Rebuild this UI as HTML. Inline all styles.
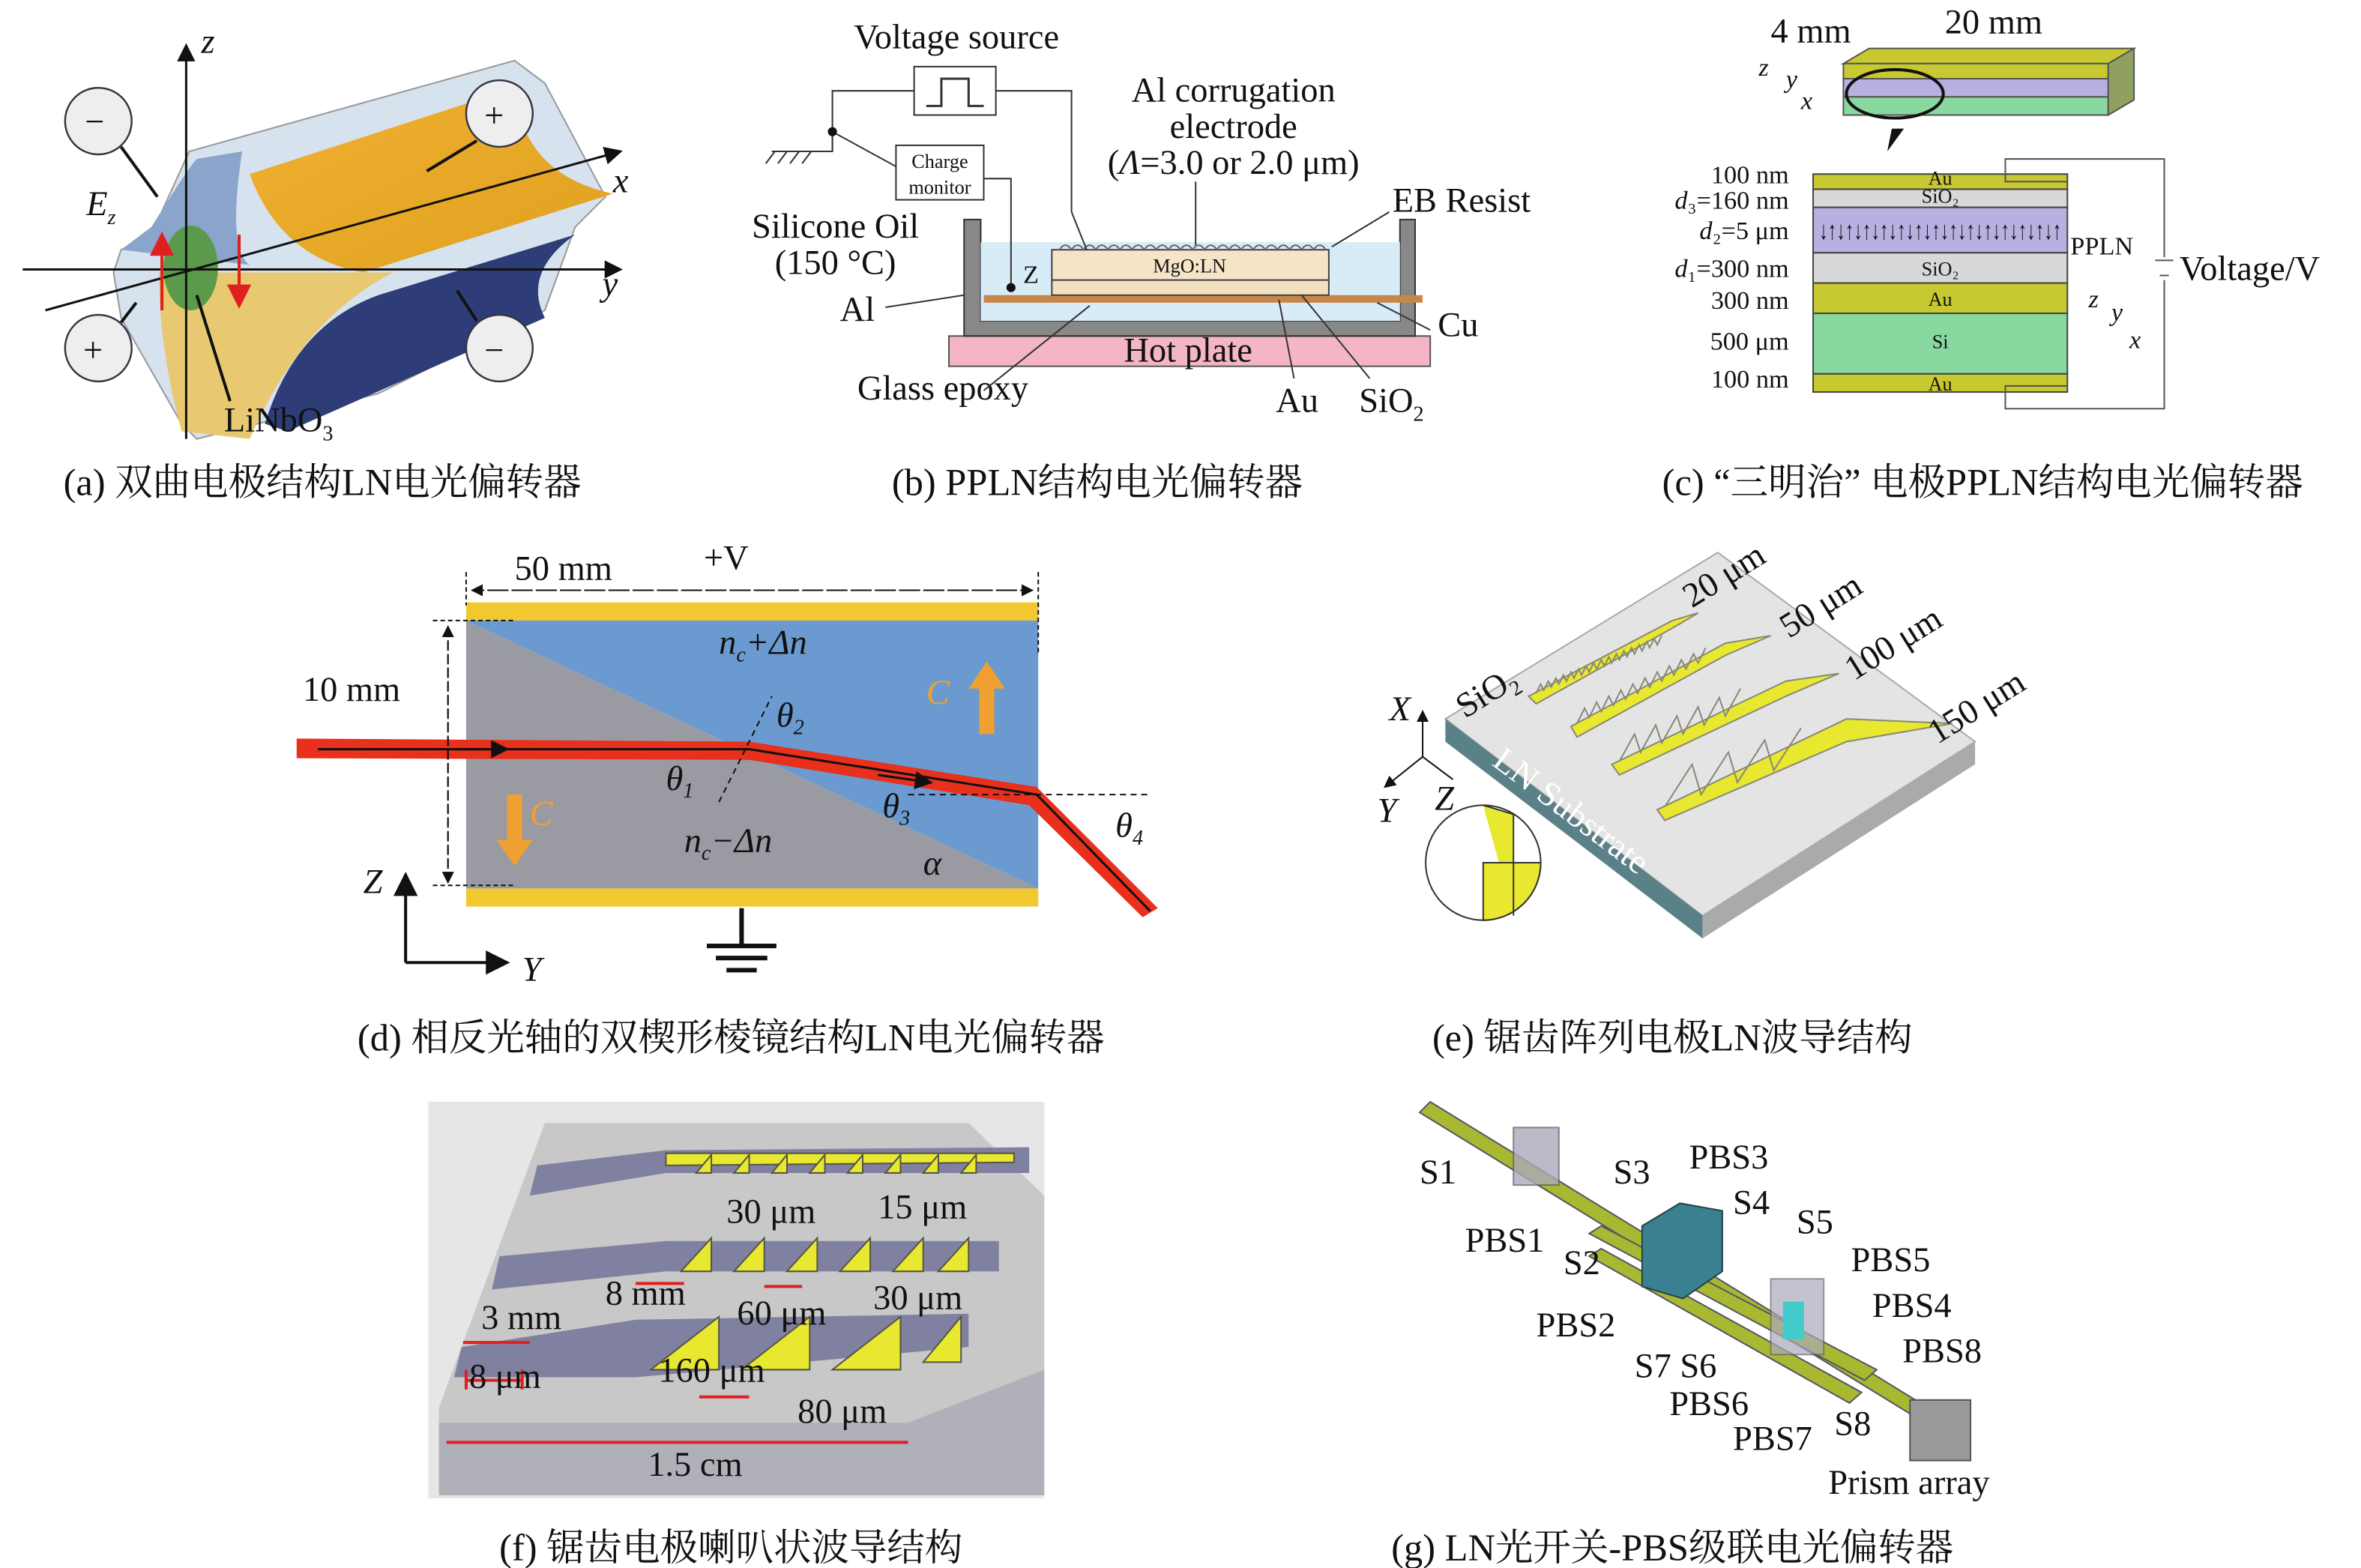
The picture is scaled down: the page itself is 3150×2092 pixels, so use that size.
<!DOCTYPE html>
<html><head><meta charset="utf-8"><style>
html,body{margin:0;padding:0;background:#fff}
svg{display:block}
text{font-family:"Liberation Serif","Noto Serif CJK SC",serif;fill:#111}
.c{font-size:25px}
.l{font-size:23px}
.s{font-size:17px}
.t{font-size:13px}
</style></head><body>
<svg width="3150" height="2092" viewBox="0 0 1560 1036" xmlns="http://www.w3.org/2000/svg">
<rect width="1560" height="1036" fill="#fff"/>
<defs>
<marker id="ar" markerWidth="8" markerHeight="8" refX="7" refY="4" orient="auto"><path d="M0,0 L8,4 L0,8z" fill="#111"/></marker>
<marker id="rr" markerWidth="8" markerHeight="8" refX="7" refY="4" orient="auto"><path d="M0,0 L8,4 L0,8z" fill="#e02020"/></marker>
<linearGradient id="gy" x1="0" y1="0" x2="1" y2="1"><stop offset="0" stop-color="#f0b030"/><stop offset="1" stop-color="#e0a020"/></linearGradient>
</defs>

<!-- (a) -->
<polygon points="125,100 340,40 360,55 400,130 380,150 360,205 250,260 130,290 120,280 80,210 75,180 80,165 100,155" fill="#d7e2ef" stroke="#999"/>
<path d="M165,115 L340,58 Q345,115 405,128 L240,180 Q185,170 165,115z" fill="url(#gy)"/>
<path d="M100,150 Q125,110 130,105 L160,100 Q150,165 165,175 L80,165z" fill="#8aa4cc"/>
<path d="M105,180 L260,180 Q200,210 165,290 L120,285 Q105,230 105,180z" fill="#e8c870"/>
<path d="M175,280 Q195,215 250,195 L380,155 Q345,180 360,210 L190,285z" fill="#2e3c78"/>
<ellipse cx="126" cy="177" rx="18" ry="28" fill="#5a9a4a"/>
<line x1="123" y1="290" x2="123" y2="30" stroke="#111" stroke-width="1.5" marker-end="url(#ar)"/>
<line x1="15" y1="178" x2="410" y2="178" stroke="#111" stroke-width="1.5" marker-end="url(#ar)"/>
<line x1="30" y1="205" x2="410" y2="100" stroke="#111" stroke-width="1.5" marker-end="url(#ar)"/>
<line x1="107" y1="205" x2="107" y2="155" stroke="#e02020" stroke-width="2" marker-end="url(#rr)"/>
<line x1="158" y1="155" x2="158" y2="202" stroke="#e02020" stroke-width="2" marker-end="url(#rr)"/>
<g fill="#eee" stroke="#334" stroke-width="1.2">
<ellipse cx="65" cy="80" rx="22" ry="22"/><ellipse cx="330" cy="75" rx="22" ry="22"/>
<ellipse cx="65" cy="230" rx="22" ry="22"/><ellipse cx="330" cy="230" rx="22" ry="22"/></g>
<g stroke="#111" stroke-width="2"><line x1="80" y1="97" x2="104" y2="130"/><line x1="315" y1="93" x2="282" y2="113"/><line x1="80" y1="213" x2="90" y2="200"/><line x1="315" y1="212" x2="302" y2="192"/><line x1="130" y1="195" x2="152" y2="265"/></g>
<text x="56" y="88" class="l" fill="#666">−</text><text x="320" y="84" class="l">+</text><text x="55" y="239" class="l">+</text><text x="320" y="239" class="l">−</text>
<text x="133" y="35" class="l" font-style="italic">z</text><text x="405" y="127" class="l" font-style="italic">x</text><text x="398" y="195" class="l" font-style="italic">y</text>
<text x="57" y="142" class="l" font-style="italic">E<tspan font-size="14" dy="6">z</tspan></text>
<text x="148" y="285" class="l">LiNbO<tspan font-size="14" dy="6">3</tspan></text>
<text x="213" y="327" class="c" text-anchor="middle">(a) 双曲电极结构LN电光偏转器</text>

<!-- (b) -->
<rect x="627" y="222" width="318" height="20" fill="#f4b6c4" stroke="#555"/>
<text x="785" y="239" class="l" text-anchor="middle">Hot plate</text>
<path d="M637,145 L637,222 L935,222 L935,145 L925,145 L925,212 L648,212 L648,145z" fill="#888" stroke="#333"/>
<rect x="648" y="160" width="277" height="52" fill="#d8ecf8"/>
<rect x="650" y="195" width="290" height="5" fill="#c8874a"/>
<rect x="695" y="185" width="183" height="10" fill="#f3e0c0" stroke="#444"/>
<rect x="695" y="165" width="183" height="20" fill="#f6e4c8" stroke="#444"/>
<path d="M700,165 q4,-6 8,0 q4,-6 8,0 q4,-6 8,0 q4,-6 8,0 q4,-6 8,0 q4,-6 8,0 q4,-6 8,0 q4,-6 8,0 q4,-6 8,0 q4,-6 8,0 q4,-6 8,0 q4,-6 8,0 q4,-6 8,0 q4,-6 8,0 q4,-6 8,0 q4,-6 8,0 q4,-6 8,0 q4,-6 8,0 q4,-6 8,0 q4,-6 8,0 q4,-6 8,0 q4,-6 8,0" fill="none" stroke="#666"/>
<text x="786" y="180" class="t" text-anchor="middle">MgO:LN</text>
<rect x="604" y="44" width="54" height="32" fill="#fff" stroke="#333"/>
<path d="M612,70 L622,70 L622,52 L640,52 L640,70 L650,70" fill="none" stroke="#333" stroke-width="1.5"/>
<rect x="592" y="96" width="58" height="36" fill="#fff" stroke="#333"/>
<text x="621" y="111" class="t" text-anchor="middle" font-size="14">Charge</text><text x="621" y="128" class="t" text-anchor="middle" font-size="14">monitor</text>
<g stroke="#333" fill="none"><path d="M604,60 L550,60 L550,100 L510,100"/><path d="M550,87 L592,110 M550,87 L550,100"/><path d="M650,118 L668,118 L668,190"/><path d="M658,60 L708,60 L708,140 L718,165"/>
<path d="M512,100 l-6,8 M520,100 l-6,8 M528,100 l-6,8 M536,100 l-6,8"/></g>
<circle cx="550" cy="87" r="3" fill="#111"/><circle cx="668" cy="190" r="3" fill="#111"/>
<text x="632" y="32" class="l" text-anchor="middle">Voltage source</text>
<text x="815" y="67" class="l" text-anchor="middle">Al corrugation</text>
<text x="815" y="91" class="l" text-anchor="middle">electrode</text>
<text x="815" y="115" class="l" text-anchor="middle">(<tspan font-style="italic">Λ</tspan>=3.0 or 2.0 μm)</text>
<text x="920" y="140" class="l">EB Resist</text>
<text x="552" y="157" class="l" text-anchor="middle">Silicone Oil</text>
<text x="552" y="181" class="l" text-anchor="middle">(150 °C)</text>
<text x="555" y="212" class="l">Al</text>
<text x="950" y="222" class="l">Cu</text>
<text x="623" y="264" class="l" text-anchor="middle">Glass epoxy</text>
<text x="843" y="272" class="l">Au</text><text x="898" y="272" class="l">SiO<tspan font-size="14" dy="6">2</tspan></text>
<text x="676" y="187" class="s">Z</text>
<g stroke="#333" fill="none"><line x1="585" y1="203" x2="637" y2="195"/><line x1="918" y1="140" x2="880" y2="163"/><line x1="790" y1="120" x2="790" y2="162"/><line x1="945" y1="218" x2="910" y2="200"/><line x1="650" y1="258" x2="720" y2="202"/><line x1="855" y1="250" x2="845" y2="198"/><line x1="905" y1="250" x2="860" y2="195"/></g>
<text x="725" y="327" class="c" text-anchor="middle">(b) PPLN结构电光偏转器</text>

<!-- (c) -->
<polygon points="1218,42 1235,32 1410,32 1393,42" fill="#c8c830" stroke="#555"/>
<rect x="1218" y="42" width="175" height="10" fill="#c8c830" stroke="#555"/>
<rect x="1218" y="52" width="175" height="12" fill="#b8b0e0" stroke="#555"/>
<rect x="1218" y="64" width="175" height="12" fill="#88d8a0" stroke="#555"/>
<polygon points="1393,42 1410,32 1410,66 1393,76" fill="#90a060" stroke="#555"/>
<ellipse cx="1252" cy="62" rx="32" ry="16" fill="none" stroke="#111" stroke-width="2"/>
<text x="1170" y="28" class="l">4 mm</text><text x="1285" y="22" class="l">20 mm</text>
<text x="1162" y="50" class="s" font-style="italic">z</text><text x="1180" y="58" class="s" font-style="italic">y</text><text x="1190" y="72" class="s" font-style="italic">x</text>
<polygon points="1250,85 1258,85 1247,100" fill="#111"/>
<g stroke="#444">
<rect x="1198" y="115" width="168" height="10" fill="#c8c830"/>
<rect x="1198" y="125" width="168" height="12" fill="#d8d8d8"/>
<rect x="1198" y="137" width="168" height="30" fill="#b8b0e0"/>
<rect x="1198" y="167" width="168" height="20" fill="#d8d8d8"/>
<rect x="1198" y="187" width="168" height="20" fill="#c8c830"/>
<rect x="1198" y="207" width="168" height="40" fill="#88d8a0"/>
<rect x="1198" y="247" width="168" height="12" fill="#c8c830"/></g>
<text x="1282" y="158" font-size="17" text-anchor="middle" textLength="160" lengthAdjust="spacingAndGlyphs">↓↑↓↑↓↑↓↑↓↑↓↑↓↑↓↑↓↑↓↑↓↑↓↑↓↑↓↑</text>
<g class="t" font-size="11" text-anchor="middle"><text x="1282" y="122">Au</text><text x="1282" y="134">SiO₂</text><text x="1282" y="182">SiO₂</text><text x="1282" y="202">Au</text><text x="1282" y="230">Si</text><text x="1282" y="258">Au</text></g>
<path d="M1366,120 L1325,120 L1325,105 L1430,105 L1430,170 M1430,185 L1430,270 L1325,270 L1325,255 L1366,255" fill="none" stroke="#555"/>
<line x1="1424" y1="172" x2="1436" y2="172" stroke="#555"/><line x1="1427" y1="182" x2="1433" y2="182" stroke="#555"/>
<text x="1368" y="168" class="s">PPLN</text><text x="1440" y="185" class="l">Voltage/V</text>
<g class="s" text-anchor="end"><text x="1182" y="121">100 nm</text><text x="1182" y="138"><tspan font-style="italic">d</tspan>₃=160 nm</text><text x="1182" y="158"><tspan font-style="italic">d</tspan>₂=5 μm</text><text x="1182" y="183"><tspan font-style="italic">d</tspan>₁=300 nm</text><text x="1182" y="204">300 nm</text><text x="1182" y="231">500 μm</text><text x="1182" y="256">100 nm</text></g>
<text x="1380" y="203" class="s" font-style="italic">z</text><text x="1395" y="212" class="s" font-style="italic">y</text><text x="1407" y="230" class="s" font-style="italic">x</text>
<text x="1310" y="327" class="c" text-anchor="middle">(c) “三明治” 电极PPLN结构电光偏转器</text>

<!-- (d) -->
<rect x="308" y="398" width="378" height="12" fill="#f2c830"/>
<rect x="308" y="587" width="378" height="12" fill="#f2c830"/>
<polygon points="308,410 686,410 686,587" fill="#6b9ad0"/>
<polygon points="308,410 686,587 308,587" fill="#9a9aa2"/>
<polygon points="196,488 495,490 685,520 765,600 755,606 680,532 495,502 196,501" fill="#e8301c"/>
<path d="M210,495 L495,495 L685,525 L760,602" fill="none" stroke="#111" stroke-width="1.5"/>
<line x1="300" y1="495" x2="335" y2="495" stroke="#111" marker-end="url(#ar)" stroke-width="1.5"/>
<line x1="580" y1="512" x2="615" y2="517" stroke="#111" marker-end="url(#ar)" stroke-width="1.5"/>
<line x1="475" y1="530" x2="510" y2="460" stroke="#111" stroke-dasharray="4,3"/>
<line x1="600" y1="525" x2="760" y2="525" stroke="#111" stroke-dasharray="4,3"/>
<line x1="312" y1="390" x2="682" y2="390" stroke="#111" stroke-dasharray="8,3,2,3" marker-end="url(#ar)"/>
<line x1="682" y1="390" x2="312" y2="390" stroke="#111" stroke-dasharray="8,3,2,3" marker-end="url(#ar)"/>
<line x1="296" y1="414" x2="296" y2="583" stroke="#111" stroke-dasharray="6,3" marker-end="url(#ar)"/>
<line x1="296" y1="583" x2="296" y2="414" stroke="#111" stroke-dasharray="6,3" marker-end="url(#ar)"/>
<g stroke="#111" stroke-dasharray="3,2"><line x1="286" y1="410" x2="340" y2="410"/><line x1="286" y1="585" x2="340" y2="585"/><line x1="308" y1="378" x2="308" y2="400"/><line x1="686" y1="378" x2="686" y2="432"/></g>
<text x="340" y="383" class="l">50 mm</text><text x="465" y="376" class="l">+V</text>
<text x="200" y="463" class="l">10 mm</text>
<text x="475" y="432" class="l" font-style="italic">n<tspan font-size="14" dy="5">c</tspan><tspan dy="-5">+Δn</tspan></text>
<text x="452" y="563" class="l" font-style="italic">n<tspan font-size="14" dy="5">c</tspan><tspan dy="-5">−Δn</tspan></text>
<text x="612" y="465" class="l" font-style="italic" style="fill:#f0a030">C</text>
<text x="350" y="545" class="l" font-style="italic" style="fill:#f0a030">C</text>
<path d="M647,485 L647,455 L640,455 L652,437 L664,455 L657,455 L657,485z" fill="#f0a030"/>
<path d="M335,525 L335,555 L328,555 L340,572 L352,555 L345,555 L345,525z" fill="#f0a030"/>
<text x="513" y="480" class="l" font-style="italic">θ<tspan font-size="14" dy="5">2</tspan></text>
<text x="440" y="522" class="l" font-style="italic">θ<tspan font-size="14" dy="5">1</tspan></text>
<text x="583" y="540" class="l" font-style="italic">θ<tspan font-size="14" dy="5">3</tspan></text>
<text x="737" y="553" class="l" font-style="italic">θ<tspan font-size="14" dy="5">4</tspan></text>
<text x="610" y="578" class="l" font-style="italic">α</text>
<line x1="268" y1="636" x2="268" y2="578" stroke="#111" stroke-width="2" marker-end="url(#ar)"/>
<line x1="268" y1="636" x2="335" y2="636" stroke="#111" stroke-width="2" marker-end="url(#ar)"/>
<text x="240" y="590" class="l" font-style="italic">Z</text><text x="345" y="648" class="l" font-style="italic">Y</text>
<g stroke="#111" stroke-width="3"><line x1="490" y1="600" x2="490" y2="625"/><line x1="467" y1="625" x2="513" y2="625"/><line x1="473" y1="633" x2="507" y2="633"/><line x1="480" y1="641" x2="500" y2="641"/></g>
<text x="483" y="694" class="c" text-anchor="middle">(d) 相反光轴的双楔形棱镜结构LN电光偏转器</text>

<!-- (e) -->
<polygon points="955,475 1135,365 1305,490 1125,605" fill="#e4e4e4" stroke="#aaa"/>
<polygon points="955,475 1125,605 1125,620 955,490" fill="#5a8088"/>
<polygon points="1125,605 1305,490 1305,505 1125,620" fill="#aaa"/>
<g fill="#e8e830" stroke="#887">
<polygon points="1010,460 1105,410 1122,405 1105,415 1015,465"/>
<polygon points="1038,480 1140,425 1170,420 1140,433 1042,487"/>
<polygon points="1065,505 1180,450 1215,445 1180,460 1070,512"/>
<polygon points="1095,535 1220,475 1290,478 1220,490 1100,542"/></g>
<g fill="none" stroke="#887" stroke-width="1">
<path d="M1015,458 l3,-6 l2,4 l3,-6 l2,4 l3,-6 l2,4 l3,-6 l2,4 l3,-6 l2,4 l3,-6 l2,4 l3,-6 l2,4 l3,-6 l2,4 l3,-6 l2,4 l3,-6 l2,4 l3,-6 l2,4 l3,-6 l2,4 l3,-6 l2,4 l3,-6 l2,4 l3,-6 l2,4 l3,-6 l2,4 l3,-6"/>
<path d="M1042,478 l5,-10 l3,6 l5,-10 l3,6 l5,-10 l3,6 l5,-10 l3,6 l5,-10 l3,6 l5,-10 l3,6 l5,-10 l3,6 l5,-10 l3,6 l5,-10 l3,6 l5,-10 l3,6 l5,-10"/>
<path d="M1070,503 l10,-18 l4,12 l10,-18 l4,12 l10,-18 l4,12 l10,-18 l4,12 l10,-18 l4,12 l10,-18"/>
<path d="M1100,533 l18,-28 l6,20 l18,-28 l6,20 l18,-28 l6,20 l18,-28"/></g>
<text x="968" y="475" class="l" transform="rotate(-32 968 475)">SiO<tspan font-size="14" dy="5">2</tspan></text>
<text x="985" y="505" class="l" transform="rotate(37 985 505)" style="fill:#fff">LN Substrate</text>
<text x="1118" y="402" class="l" transform="rotate(-32 1118 402)">20 μm</text>
<text x="1182" y="422" class="l" transform="rotate(-32 1182 422)">50 μm</text>
<text x="1225" y="450" class="l" transform="rotate(-32 1225 450)">100 μm</text>
<text x="1280" y="492" class="l" transform="rotate(-32 1280 492)">150 μm</text>
<circle cx="980" cy="570" r="38" fill="#fff" stroke="#333"/>
<path d="M980,570 L1018,570 A38,38 0 0 1 980,608z M980,532 L1000,538 L1000,605" fill="#e8e830" stroke="#333"/>
<line x1="940" y1="500" x2="940" y2="470" stroke="#111" marker-end="url(#ar)"/>
<line x1="940" y1="500" x2="915" y2="520" stroke="#111" marker-end="url(#ar)"/>
<line x1="940" y1="500" x2="960" y2="515" stroke="#111"/>
<text x="918" y="476" class="l" font-style="italic">X</text><text x="910" y="543" class="l" font-style="italic">Y</text><text x="948" y="535" class="l" font-style="italic">Z</text>
<text x="1105" y="694" class="c" text-anchor="middle">(e) 锯齿阵列电极LN波导结构</text>

<!-- (f) -->
<rect x="283" y="728" width="407" height="262" fill="#e6e6e6"/>
<polygon points="360,742 640,742 690,790 690,930 600,955 290,955 290,930 360,742" fill="#c8c8c8"/>
<polygon points="290,940 600,940 690,905 690,988 290,988" fill="#b0b0b8"/>
<g fill="#8080a0"><polygon points="355,770 440,760 680,758 680,775 440,775 350,790"/><polygon points="330,830 440,820 660,820 660,840 440,840 325,852"/><polygon points="305,890 420,872 640,868 640,890 420,910 300,910"/></g>
<g fill="#e8e830" stroke="#554"><polygon points="440,762 670,762 670,768 440,770"/>
<path d="M460,775 l10,-12 l0,12z M485,775 l10,-12 l0,12z M510,775 l10,-12 l0,12z M535,775 l10,-12 l0,12z M560,775 l10,-12 l0,12z M585,775 l10,-12 l0,12z M610,775 l10,-12 l0,12z M635,775 l10,-12 l0,12z"/>
<path d="M450,840 l20,-22 l0,22z M485,840 l20,-22 l0,22z M520,840 l20,-22 l0,22z M555,840 l20,-22 l0,22z M590,840 l20,-22 l0,22z M620,840 l20,-22 l0,22z"/>
<path d="M430,905 l45,-35 l0,35z M490,905 l45,-35 l0,35z M550,905 l45,-35 l0,35z M610,900 l25,-30 l0,30z"/></g>
<g stroke="#e02020" stroke-width="2"><line x1="306" y1="887" x2="350" y2="887"/><line x1="308" y1="905" x2="308" y2="918"/><line x1="345" y1="905" x2="345" y2="918"/><line x1="308" y1="912" x2="345" y2="912"/><line x1="295" y1="953" x2="600" y2="953"/><line x1="462" y1="923" x2="495" y2="923"/><line x1="505" y1="850" x2="530" y2="850"/><line x1="420" y1="848" x2="452" y2="848"/></g>
<text x="318" y="878" class="l">3 mm</text><text x="310" y="917" class="l">8 μm</text>
<text x="480" y="808" class="l">30 μm</text><text x="580" y="805" class="l">15 μm</text>
<text x="400" y="862" class="l">8 mm</text><text x="487" y="875" class="l">60 μm</text><text x="577" y="865" class="l">30 μm</text>
<text x="435" y="913" class="l">160 μm</text><text x="527" y="940" class="l">80 μm</text>
<text x="428" y="975" class="l">1.5 cm</text>
<text x="483" y="1031" class="c" text-anchor="middle">(f) 锯齿电极喇叭状波导结构</text>

<!-- (g) -->
<g fill="#a8b830" stroke="#556">
<polygon points="938,735 945,728 1290,940 1283,947"/>
<polygon points="1050,815 1058,810 1240,905 1232,912"/>
<polygon points="1050,830 1058,825 1230,920 1222,927"/></g>
<rect x="1000" y="745" width="30" height="38" fill="#aab" opacity="0.8" stroke="#666"/>
<polygon points="1085,810 1110,795 1138,800 1138,840 1112,858 1085,850" fill="#3a8090" stroke="#244"/>
<rect x="1170" y="845" width="35" height="50" fill="#aab" opacity="0.7" stroke="#666"/>
<rect x="1178" y="860" width="14" height="25" fill="#4cc"/>
<rect x="1262" y="925" width="40" height="40" fill="#999" stroke="#555"/>
<g class="l"><text x="938" y="782">S1</text><text x="1066" y="782">S3</text><text x="1116" y="772">PBS3</text><text x="1145" y="802">S4</text><text x="1187" y="815">S5</text>
<text x="968" y="827">PBS1</text><text x="1033" y="842">S2</text><text x="1223" y="840">PBS5</text><text x="1237" y="870">PBS4</text>
<text x="1015" y="883">PBS2</text><text x="1257" y="900">PBS8</text><text x="1080" y="910">S7</text><text x="1110" y="910">S6</text>
<text x="1103" y="935">PBS6</text><text x="1145" y="958">PBS7</text><text x="1212" y="948">S8</text><text x="1208" y="987">Prism array</text></g>
<text x="1105" y="1031" class="c" text-anchor="middle">(g) LN光开关-PBS级联电光偏转器</text>
</svg>
</body></html>
